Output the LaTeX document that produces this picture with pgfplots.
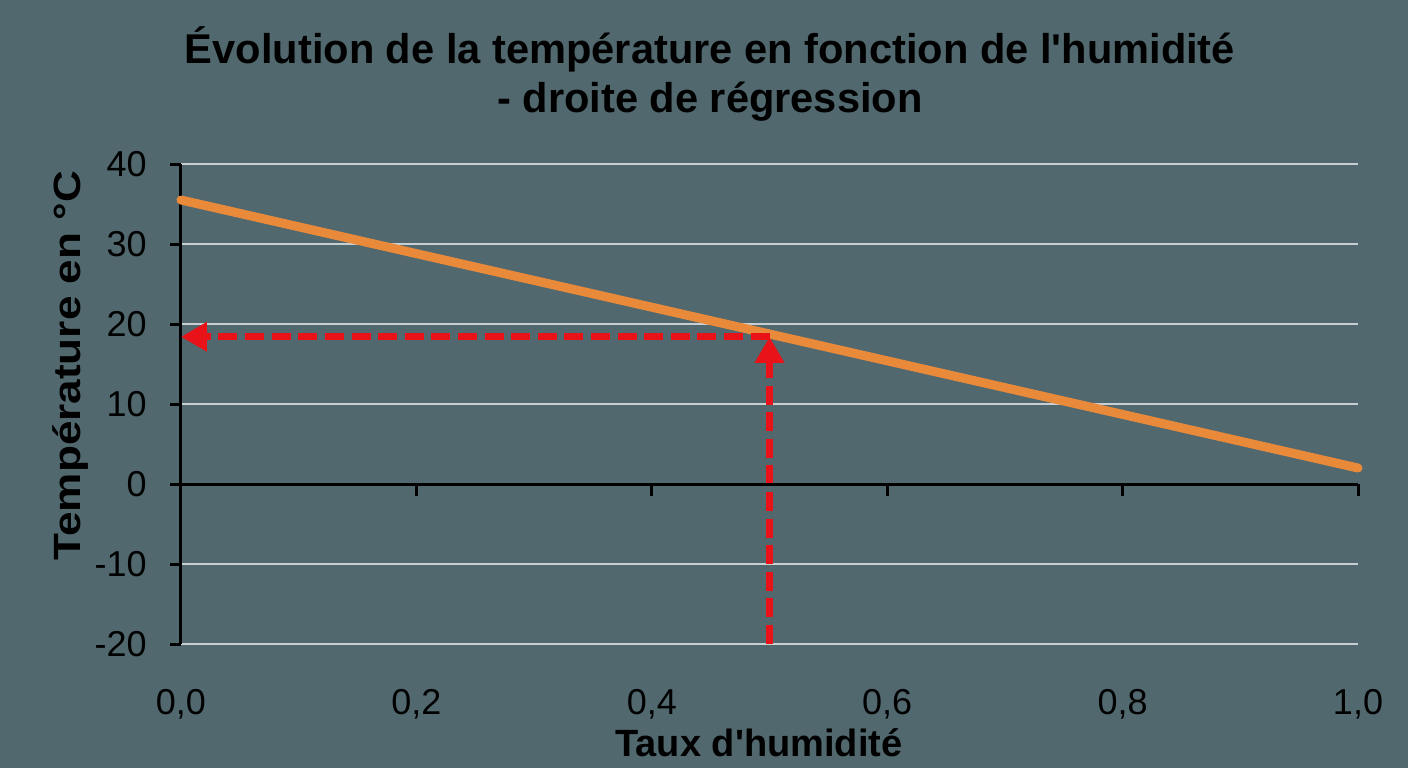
\documentclass[border=0pt]{standalone}
\usepackage{pgfplots}
\pgfplotsset{compat=1.18}
\usepackage{fontspec}
\setmainfont{Liberation Sans}
\usetikzlibrary{arrows.meta}

\definecolor{bgslate}{RGB}{80,104,110}
\definecolor{gridgray}{RGB}{200,207,210}
\definecolor{lineorange}{RGB}{233,137,58}
\definecolor{arrowred}{RGB}{232,18,24}

\begin{document}
\begin{tikzpicture}
\fill[bgslate] (-90.5pt,-62pt) rectangle (613.5pt,322pt);
\begin{axis}[
  scale only axis,
  width=588.5pt, height=240pt,
  xmin=0, xmax=1, ymin=-20, ymax=40,
  clip=false,
  axis x line*=bottom, axis y line*=left,
  x axis line style={draw=none},
  y axis line style={black, line width=1.5pt},
  xtick={0,0.2,0.4,0.6,0.8,1.0},
  xticklabels={{0,0},{0,2},{0,4},{0,6},{0,8},{1,0}},
  ytick={-20,-10,0,10,20,30,40},
  yticklabels={-20,-10,0,10,20,30,40},
  xtick style={draw=none},
  ytick style={black, line width=1.5pt},
  tick align=outside,
  major tick length=5.5pt,
  ymajorgrids,
  grid style={gridgray, line width=1.2pt},
  tick label style={font=\fontsize{18}{20}\selectfont, text=black},
  xticklabel style={anchor=base, yshift=-29.5pt, inner sep=0pt},
  yticklabel style={anchor=east, xshift=-11.5pt, inner sep=0pt},
]
% droite de régression
\addplot[lineorange, line width=4.5pt, line cap=round] coordinates {(0,35.5) (1,2)};

% lecture graphique
\addplot[arrowred, line width=3.5pt, dash pattern=on 9.5pt off 3.8pt,
  -{Triangle[width=14pt,length=13pt]}] coordinates {(0.5,-20) (0.5,18.4)};
\addplot[arrowred, line width=3.5pt, dash pattern=on 9.5pt off 3.8pt,
  -{Triangle[width=14pt,length=13pt]}] coordinates {(0.5,18.4) (0,18.4)};

% axe horizontal en y=0
\draw[black, line width=1.5pt] (axis cs:0,0) -- (axis cs:1,0);
\pgfplotsinvokeforeach{0.2,0.4,0.6,0.8,1.0}{
  \draw[black, line width=1.5pt] (axis cs:#1,0) -- (axis cs:#1,-1.5);
}

% titres
\node[anchor=base, font=\bfseries\fontsize{20.8}{24}\selectfont]
  at (axis cs:0.4494,52.6) {Évolution de la température en fonction de l\textquotesingle humidité};
\node[anchor=base, font=\bfseries\fontsize{20.8}{24}\selectfont]
  at (axis cs:0.4494,46.5) {- droite de régression};
\node[anchor=base, font=\bfseries\fontsize{19}{22}\selectfont]
  at (axis cs:0.491,-34.1) {Taux d\textquotesingle humidité};
\node[anchor=base, rotate=90, font=\bfseries\fontsize{19}{22}\selectfont]
  at (axis cs:-0.0858,14.8) {\scalebox{1.16}[1]{Température en °C}};
\end{axis}
\pgfresetboundingbox
\useasboundingbox (-90.5pt,-62pt) rectangle (613.5pt,322pt);
\end{tikzpicture}
\end{document}
